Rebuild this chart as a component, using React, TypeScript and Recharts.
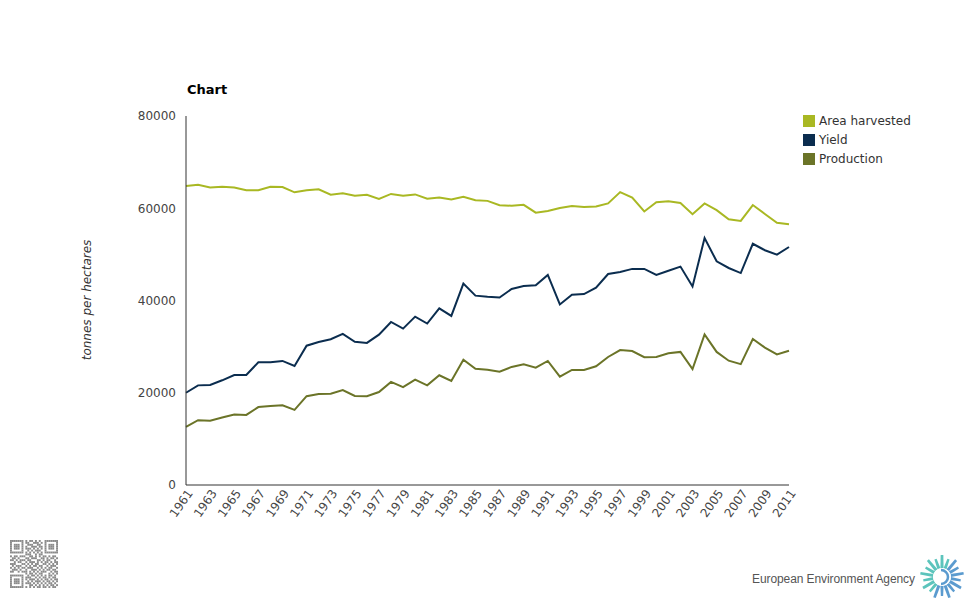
import React from 'react';
import { LineChart, Line, XAxis, YAxis } from 'recharts';

const years = [
  1961, 1962, 1963, 1964, 1965, 1966, 1967, 1968, 1969, 1970,
  1971, 1972, 1973, 1974, 1975, 1976, 1977, 1978, 1979, 1980,
  1981, 1982, 1983, 1984, 1985, 1986, 1987, 1988, 1989, 1990,
  1991, 1992, 1993, 1994, 1995, 1996, 1997, 1998, 1999, 2000,
  2001, 2002, 2003, 2004, 2005, 2006, 2007, 2008, 2009, 2010, 2011,
];

const areaHarvested = [
  64800, 65100, 64500, 64650, 64500, 63900, 63900, 64650, 64600, 63450,
  63900, 64100, 62950, 63250, 62700, 62900, 62000, 63100, 62700, 63000,
  62050, 62350, 61900, 62500, 61750, 61600, 60650, 60550, 60750, 59050,
  59400, 60050, 60500, 60250, 60400, 61050, 63500, 62300, 59300, 61300,
  61500, 61150, 58700, 61050, 59600, 57600, 57250, 60700, 58750, 56850, 56550,
];

const yieldValues = [
  20000, 21600, 21700, 22700, 23850, 23850, 26600, 26600, 26900, 25800,
  30200, 31000, 31600, 32750, 31050, 30800, 32600, 35350, 33900, 36500,
  35000, 38300, 36650, 43650, 41050, 40800, 40650, 42500, 43150, 43300,
  45550, 39150, 41250, 41400, 42800, 45750, 46200, 46850, 46850, 45550,
  46450, 47350, 43050, 53550, 48500, 47050, 45950, 52300, 50900, 49950, 51600,
];

const production = [
  12600, 14050, 13950, 14650, 15300, 15200, 16900, 17150, 17300, 16300,
  19250, 19750, 19800, 20600, 19300, 19250, 20150, 22350, 21200, 22850,
  21600, 23800, 22550, 27150, 25200, 25000, 24550, 25600, 26150, 25450,
  26900, 23500, 24950, 24950, 25750, 27750, 29250, 29050, 27700, 27750,
  28550, 28850, 25150, 32650, 28850, 26950, 26200, 31650, 29800, 28300, 29100,
];

const xTicks = [
  1961, 1963, 1965, 1967, 1969, 1971, 1973, 1975, 1977, 1979, 1981, 1983, 1985,
  1987, 1989, 1991, 1993, 1995, 1997, 1999, 2001, 2003, 2005, 2007, 2009, 2011,
];
const yTicks = [0, 20000, 40000, 60000, 80000];

const seriesNames = ['Area harvested', 'Yield', 'Production'];
const seriesColors = ['#A9B823', '#0B2D4F', '#6B7428'];

const data = years.map((year, i) => ({
  year,
  area: areaHarvested[i],
  yield: yieldValues[i],
  production: production[i],
}));

const XTick = (props: any) => {
  const { x, y, payload } = props;
  return (
    <g transform={`translate(${x + 4},${y + 6})`}>
      <text
        x={0}
        y={0}
        dy={4}
        textAnchor="end"
        transform="rotate(-55)"
        fill="#444"
        fontSize={12}
      >
        {payload.value}
      </text>
    </g>
  );
};

const qrCells = [
  '1111111010110101001111111',
  '1000001011001110101000001',
  '1011101001110011001011101',
  '1011101010011101101011101',
  '1011101011101010101011101',
  '1000001001010111001000001',
  '1111111010101010101111111',
  '0000000011100101100000000',
  '1011011100110101011010110',
  '0110100011011100110101101',
  '1101011101100011010110010',
  '0010110010111010101101011',
  '1110001101010110011010101',
  '0101110010101101100101110',
  '1010101101110010101011001',
  '0111010010011101010110110',
  '1100101110101010111001011',
  '0000000010110101100010101',
  '1111111001011010101011010',
  '1000001011100101011010110',
  '1011101010111010101101011',
  '1011101001010111010110101',
  '1011101011101010101011010',
  '1000001000110101010101101',
  '1111111010101011011010110',
];

const QR = () => {
  const cell = 1.92;
  const rects: any[] = [];
  qrCells.forEach((row, r) => {
    row.split('').forEach((c, k) => {
      if (c === '1') {
        rects.push(
          <rect key={`${r}-${k}`} x={10 + k * cell} y={540 + r * cell} width={cell} height={cell} fill="#8a8a8a" />
        );
      }
    });
  });
  return <g>{rects}</g>;
};

const Logo = () => {
  const cx = 942;
  const cy = 577;
  const petals: any[] = [];
  const n = 18;
  for (let i = 0; i < n; i++) {
    const a = (i / n) * Math.PI * 2 - Math.PI / 2;
    const deg = ((a * 180) / Math.PI + 360) % 360;
    const r1 = 9;
    const r2 = i % 2 === 0 ? 22 : 19;
    const half = 0.11;
    const blue = deg > 300 || deg < 115;
    const color = blue ? '#5B9BCF' : '#5CC4BC';
    const pts = [
      [cx + r1 * Math.cos(a - half * 1.6), cy + r1 * Math.sin(a - half * 1.6)],
      [cx + r2 * Math.cos(a - half * 0.55), cy + r2 * Math.sin(a - half * 0.55)],
      [cx + r2 * Math.cos(a + half * 0.55), cy + r2 * Math.sin(a + half * 0.55)],
      [cx + r1 * Math.cos(a + half * 1.6), cy + r1 * Math.sin(a + half * 1.6)],
    ]
      .map((p) => p.join(','))
      .join(' ');
    petals.push(<polygon key={i} points={pts} fill={color} />);
  }
  return (
    <g>
      {petals}
      <circle cx={cx} cy={cy} r={9} fill="#fff" />
      <path
        d={`M ${cx - 1} ${cy - 7} A 7 7 0 1 1 ${cx - 1} ${cy + 7}`}
        fill="none"
        stroke="#5B9BCF"
        strokeWidth={2.5}
      />
    </g>
  );
};

export default function App() {
  return (
    <div
      style={{
        position: 'absolute',
        left: 0,
        top: 0,
        width: 975,
        height: 600,
        background: '#fff',
        fontFamily: '"DejaVu Sans", Verdana, sans-serif',
      }}
    >
      <LineChart
        width={975}
        height={600}
        data={data}
        margin={{ top: 116, right: 186, bottom: 75, left: 126 }}
      >
        <XAxis
          dataKey="year"
          type="number"
          domain={[1961, 2011]}
          ticks={xTicks}
          interval={0}
          tickLine={false}
          tickSize={0}
          tickMargin={0}
          height={40}
          axisLine={{ stroke: '#333', strokeWidth: 1 }}
          tick={<XTick />}
        />
        <YAxis
          type="number"
          domain={[0, 80000]}
          ticks={yTicks}
          width={60}
          tickLine={false}
          tickSize={0}
          tickMargin={10}
          axisLine={{ stroke: '#333', strokeWidth: 1 }}
          tick={{ fill: '#444', fontSize: 12 }}
        />
        <Line type="linear" dataKey="area" name={seriesNames[0]} stroke={seriesColors[0]} strokeWidth={2} dot={false} isAnimationActive={false} />
        <Line type="linear" dataKey="yield" name={seriesNames[1]} stroke={seriesColors[1]} strokeWidth={2} dot={false} isAnimationActive={false} />
        <Line type="linear" dataKey="production" name={seriesNames[2]} stroke={seriesColors[2]} strokeWidth={2} dot={false} isAnimationActive={false} />
      </LineChart>
      <svg
        width={975}
        height={600}
        style={{ position: 'absolute', left: 0, top: 0, pointerEvents: 'none' }}
      >
        <text x={187} y={94} fontSize={13} fontWeight="bold" fill="#000">Chart</text>
        <text
          x={0}
          y={0}
          transform="translate(91,300) rotate(-90)"
          textAnchor="middle"
          fontSize={12}
          fontStyle="italic"
          fill="#333"
        >
          tonnes per hectares
        </text>
        {seriesNames.map((name, i) => (
          <g key={name}>
            <rect x={803} y={115 + i * 19} width={12} height={12} fill={seriesColors[i]} />
            <text x={819} y={125 + i * 19} fontSize={12} fill="#333">{name}</text>
          </g>
        ))}
        <QR />
        <text x={752} y={583} fontSize={12} fill="#555" textLength={163} fontFamily='"Liberation Sans", Arial, sans-serif'>
          European Environment Agency
        </text>
        <Logo />
      </svg>
    </div>
  );
}
